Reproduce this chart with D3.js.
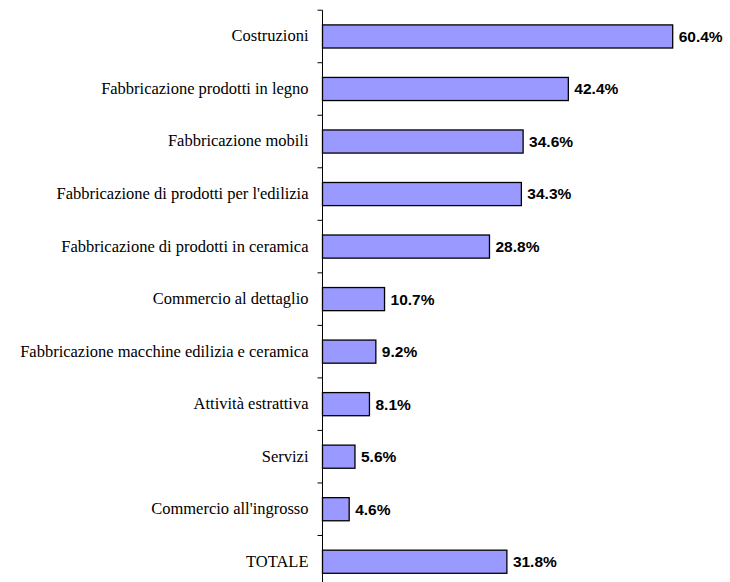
<!DOCTYPE html>
<html>
<head>
<meta charset="utf-8">
<script src="https://cdn.jsdelivr.net/npm/d3@7"></script>
<style>
  html, body { margin: 0; padding: 0; background: #fff; }
  svg { display: block; }
  .cat { font-family: "Liberation Serif", "Times New Roman", Tinos, "Nimbus Roman", "DejaVu Serif", serif; }
  .val { font-family: "Liberation Sans", Arial, Arimo, sans-serif; font-weight: bold; }
</style>
</head>
<body>
<svg id="chart" width="730" height="582"></svg>
<script>
// Sector shares (%), top to bottom
const categories = [
  "Costruzioni",
  "Fabbricazione prodotti in legno",
  "Fabbricazione mobili",
  "Fabbricazione di prodotti per l'edilizia",
  "Fabbricazione di prodotti in ceramica",
  "Commercio al dettaglio",
  "Fabbricazione macchine edilizia e ceramica",
  "Attività estrattiva",
  "Servizi",
  "Commercio all'ingrosso",
  "TOTALE"
];
const values = [60.4, 42.4, 34.6, 34.3, 28.8, 10.7, 9.2, 8.1, 5.6, 4.6, 31.8];
const valueLabels = ["60.4%", "42.4%", "34.6%", "34.3%", "28.8%", "10.7%", "9.2%", "8.1%", "5.6%", "4.6%", "31.8%"];

const svg = d3.select("#chart");
const axisX = 322.5, plotTop = 10.2, plotBottom = 588;
const labelRight = axisX - 14, labelLeft = 20;

const x = d3.scaleLinear().domain([0, 60.4]).range([axisX, 672.7]);
const y = d3.scaleBand().domain(categories).range([plotTop, plotBottom]).paddingInner(0.56).paddingOuter(0.28);

// bars
svg.append("g").selectAll("rect")
  .data(values)
  .join("rect")
  .attr("x", x(0))
  .attr("y", (d, i) => y(categories[i]))
  .attr("width", d => x(d) - x(0))
  .attr("height", y.bandwidth())
  .attr("fill", "#9999FF")
  .attr("stroke", "#000")
  .attr("stroke-width", 1.3);

// category axis: ticks sit on band boundaries
const boundaries = d3.range(categories.length + 1)
  .map(i => plotTop + i * (plotBottom - plotTop) / categories.length);
const axis = svg.append("g");
axis.append("line")
  .attr("x1", axisX).attr("x2", axisX)
  .attr("y1", plotTop).attr("y2", plotBottom)
  .attr("stroke", "#000").attr("stroke-width", 1);
axis.selectAll("line.tick")
  .data(boundaries)
  .join("line")
  .attr("class", "tick")
  .attr("x1", axisX - 5).attr("x2", axisX)
  .attr("y1", d => d).attr("y2", d => d)
  .attr("stroke", "#000").attr("stroke-width", 1);

// category labels
const catLabels = svg.append("g").selectAll("text")
  .data(categories)
  .join("text")
  .attr("class", "cat")
  .attr("x", labelRight)
  .attr("y", d => y(d) + y.bandwidth() / 2)
  .attr("dy", "0.3em")
  .attr("text-anchor", "end")
  .style("font-size", "15px")
  .attr("fill", "#000")
  .text(d => d);

// scale the label font so the longest label fills the left margin
const widest = d3.max(catLabels.nodes(), n => n.getComputedTextLength());
if (widest > 0) {
  const size = Math.max(11, Math.min(17, 15 * (labelRight - labelLeft) / widest));
  catLabels.style("font-size", size + "px");
}

// value labels
svg.append("g").selectAll("text")
  .data(values)
  .join("text")
  .attr("class", "val")
  .attr("x", d => x(d) + 6)
  .attr("y", (d, i) => y(categories[i]) + y.bandwidth() / 2)
  .attr("dy", "0.35em")
  .attr("font-size", 15.5)
  .attr("fill", "#000")
  .text((d, i) => valueLabels[i]);
</script>
</body>
</html>
